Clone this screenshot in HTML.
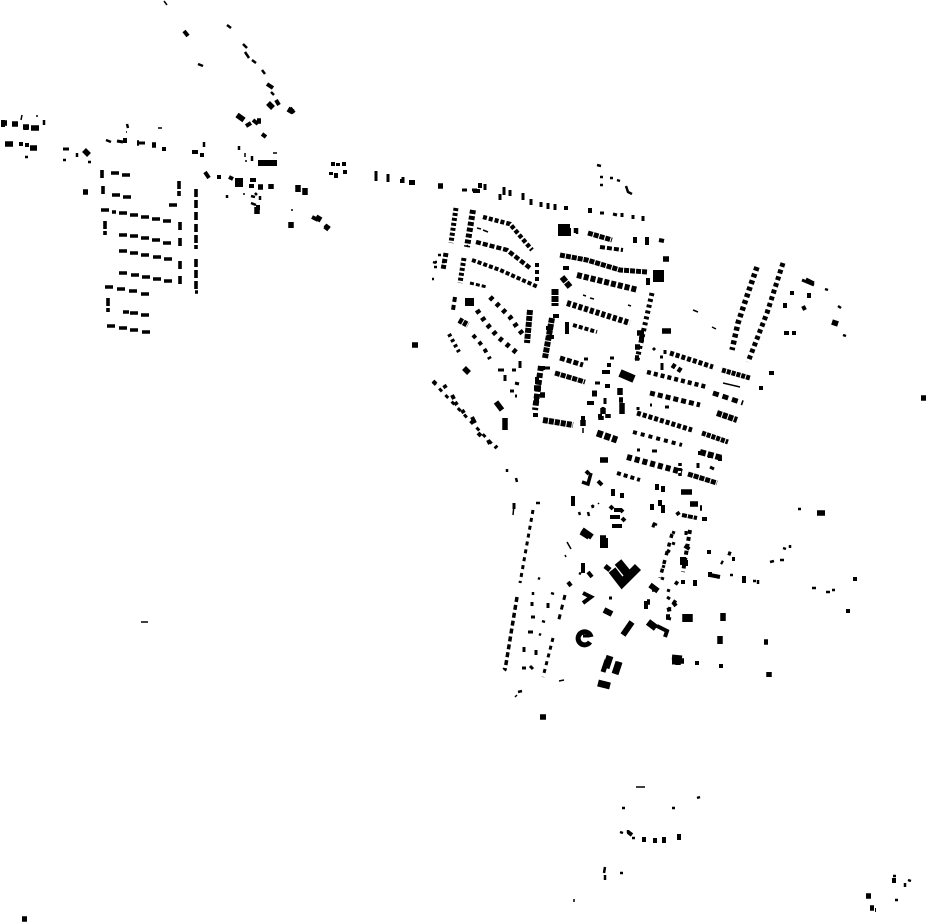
<!DOCTYPE html>
<html><head><meta charset="utf-8"><style>
html,body{margin:0;padding:0;background:#fff;width:930px;height:924px;overflow:hidden}
svg{display:block}
path{fill:none;stroke:#000}
</style></head><body>
<svg width="930" height="924" viewBox="0 0 930 924" xmlns="http://www.w3.org/2000/svg">
<!-- tiny buildings -->
<path stroke-width="1.5" d="M164 1l3 4M126 132h1M245 153v4M244 193v2M255 193l1 2M158 128h4M273 153h4M22 115l-1 5M141 622h7M291 210h2M36 116h2M245 161h2M467 245l1 2M477 228l4 1M483 230l5 2M583 295l3 1M590 298l4 1M628 305l3 1M583 428v5M693 310l5 2M712 327l4 2M723 383l17 4M503 668l3 3M565 555l1 2M592 505l2 1M598 503l1 1M559 681l5-1M515 697l2-2M574 899v3M514 505l-1 10M567 542l4 7M636 787h9"/>
<path stroke-width="2.5" d="M198 64l5 2M227 25l4 3M243 44l4 4M245 52l4 6M252 60l4 3M262 70l3 4M271 92l3 3M63 160h3M25 157h3M44 120v5M88 162h3M127 124l1 4M106 140l5 2M204 142v5M239 146v4M252 156v5M260 196v4M258 205v4M77 153v4M227 195v3M251 196l4 1M255 193l2 2M251 203l5 2M445 262h-3M433 262l3 1M434 267h3M432 279h2M438 255h3M577 228v6M575 228v5M435 262h2M600 177h3M610 178h3M617 180l3 1M600 185h3M597 165l4 1M626 186l2 6l4 2M798 509h3M838 306l3 2M843 335l3 1M825 289l3 1M812 588h4M826 592h4M832 590h3M783 548l3 1M790 545v3M770 562l4-1M780 560h4M730 575h3M753 581h3M758 580v4M579 573l2 1M592 505l1 3M507 472v-3M516 478l1 4M518 692l4-1M622 808h3M697 798l3-1M672 808h3M620 832l3 1M628 830v3M632 838h3M605 867l-1 6M605 875v5M620 873h3M893 876h3M908 880l3 1M905 883v4M895 900h3M536 503h4M653 523l4 2M592 506l2 1M579 512l1 3M588 512l1 4M542 621l3 1M539 634l2 1M551 593l3 1M538 578l2 1M533 592v3"/>
<!-- west grid -->
<path stroke-width="3.6" d="M111 173h8M122 175h8M112 195h8M123 197h8M101 210h8M112 212h4M119 213h8M130 215h8M141 217h8M152 219h8M163 221h8M169 205h8M119 235h8M130 236h8M141 238h8M152 240h8M163 243h8M119 251h8M130 253h8M141 255h8M153 257h8M164 259h8M119 273h8M131 275h8M142 277h8M153 279h8M164 281h8M105 287h8M117 289h8M129 291h8M141 294h8M123 312h6M130 313h8M141 315h8M107 326h8M119 328h8M130 330h8M142 332h8M102 170v8M103 186v8M179 181v8M179 191v5M180 222v8M180 238v8M180 261v8M180 276v8M105 221v8M105 231v4M108 298v8M108 308v4M196 189v8M196 200v8M196 212v8M196 224v8M196 235v8M196 245v4M196 259v8M196 270v8M196 281v8M195 292h3"/>
<!-- 3-wide misc -->
<path stroke-width="3" d="M63 149h6M139 143h6M117 141l6 1M462 190h5M472 190h5M376 171v10M388 174v8M403 177v6M485 184v6M504 187v8M510 190v6M523 193v7M531 199v6M500 194v6M510 190v6M548 203v6M555 204v6M600 213h4M613 214l4 1M622 213v4M633 215v4M643 216v5M541 202v5M584 359h4M505 381v-6M515 383l4 1M510 391h4M515 396h2M498 370h6M512 370h4M520 361v7M544 368h6M595 383h5M592 392h5M592 395h5M610 358h4M605 398v6M603 407v6M653 348l2 2M665 350v4M660 357h3M662 363v7M650 405h2M665 407h4M638 407v3M652 451h5M637 450h3M698 463v5M710 467l4 2M609 598h3M672 532l3 1M672 543l3 1M667 550l3 2M662 566l3 1M686 531v4M661 578l3 1M667 590l3 1M667 597l3 2M668 608l3 1M667 618l4 1"/>
<!-- dashed rows -->
<g>
<path stroke-width="5" stroke-dasharray="3 2" d="M456 208L451 243"/>
<path stroke-width="6" stroke-dasharray="4 2" d="M473 210L467 247"/>
<path stroke-width="4.5" stroke-dasharray="4 2" d="M483 217L510 224L532 250"/>
<path stroke-width="4.5" stroke-dasharray="5 2" d="M476 242L507 250L530 268"/>
<path stroke-width="4" stroke-dasharray="4 2" d="M472 260L500 270L538 287"/>
<path stroke-width="5" stroke-dasharray="3 2" d="M464 258L460 283"/>
<path stroke-width="3" stroke-dasharray="4 2" d="M470 283L487 287"/>
<path stroke-width="5" stroke-dasharray="4 2" d="M446 253L443 270"/>
<path stroke-width="4" stroke-dasharray="4 3" d="M537 263L537 283"/>
<path stroke-width="4" stroke-dasharray="5 3" d="M455 297L453 310"/>
<path stroke-width="5" stroke-dasharray="4 5" d="M490 297L498 305L510 317L517 327L525 337"/>
<path stroke-width="6" stroke-dasharray="5 1" d="M530 310L527 343"/>
<path stroke-width="5" stroke-dasharray="4 5" d="M477 310L486 323L498 337L517 353"/>
<path stroke-width="6" stroke-dasharray="4 1" d="M459 320L468 325"/>
<path stroke-width="4" stroke-dasharray="4 5" d="M473 335L480 343L485 350L490 359"/>
<path stroke-width="4" stroke-dasharray="3 3" d="M449 334L459 352"/>
<path stroke-width="3" stroke-dasharray="4 5" d="M433 382L495 447"/>
<path stroke-width="5" stroke-dasharray="5 1" d="M588 233L612 240"/>
<path stroke-width="4" stroke-dasharray="5 2" d="M600 247L623 250"/>
<path stroke-width="5" stroke-dasharray="5 1" d="M560 255L587 260L620 270L647 272"/>
<path stroke-width="6" stroke-dasharray="5 2" d="M577 275L638 290"/>
<path stroke-width="6" stroke-dasharray="6 1" d="M562 277L570 287"/>
<path stroke-width="7" stroke-dasharray="6 1" d="M555 289L555 306"/>
<path stroke-width="6" stroke-dasharray="4 2" d="M567 303L630 323"/>
<path stroke-width="5" stroke-dasharray="3 3" d="M652 293L637 360"/>
<path stroke-width="4" stroke-dasharray="4 2" d="M573 325L597 332"/>
<path stroke-width="5" stroke-dasharray="5 2" d="M560 358L583 365"/>
<path stroke-width="5" stroke-dasharray="5 1" d="M555 373L585 382"/>
<path stroke-width="6" stroke-dasharray="5 1" d="M543 420L573 425"/>
<path stroke-width="7" stroke-dasharray="6 2" d="M597 433L617 440"/>
<path stroke-width="6" stroke-dasharray="5 1" d="M552 318L545 358"/>
<path stroke-width="6" stroke-dasharray="5 2" d="M541 366L535 410"/>
<path stroke-width="5" stroke-dasharray="4 3" d="M783 263L767 313L748 362"/>
<path stroke-width="5.500" stroke-dasharray="4 3" d="M757 267L748 293L738 323L732 350"/>
<path stroke-width="5" stroke-dasharray="4 2" d="M670 353L713 367"/>
<path stroke-width="5" stroke-dasharray="4 1" d="M722 370L750 378"/>
<path stroke-width="5" stroke-dasharray="4 3" d="M672 365L683 372"/>
<path stroke-width="4.5" stroke-dasharray="4 3" d="M647 372L707 387"/>
<path stroke-width="5" stroke-dasharray="5 3" d="M650 393L700 405"/>
<path stroke-width="5" stroke-dasharray="6 4" d="M713 393L743 403"/>
<path stroke-width="5" stroke-dasharray="4 2" d="M637 413L692 430"/>
<path stroke-width="6" stroke-dasharray="5 1" d="M717 413L737 420"/>
<path stroke-width="5" stroke-dasharray="4 1" d="M702 433L728 442"/>
<path stroke-width="6" stroke-dasharray="6 2" d="M700 452L722 458"/>
<path stroke-width="6" stroke-dasharray="5 3" d="M627 457L682 472"/>
<path stroke-width="5" stroke-dasharray="5 1" d="M688 474L717 483"/>
<path stroke-width="4" stroke-dasharray="4 3" d="M617 473L640 480"/>
<path stroke-width="4" stroke-dasharray="5 1" d="M682 515L697 518"/>
<path stroke-width="4" stroke-dasharray="4 4" d="M633 432L682 445"/>
<path stroke-width="4" stroke-dasharray="4 3" d="M690 530L683 572"/>
<path stroke-width="3.5" stroke-dasharray="4 5" d="M672 534L660 578"/>
<path stroke-width="3" stroke-dasharray="4 4" d="M533 510L520 583"/>
<path stroke-width="3" stroke-dasharray="4 4" d="M553 638L543 677"/>
<path stroke-width="3" stroke-dasharray="5 5" d="M565 595L558 623"/>
<path stroke-width="3.5" stroke-dasharray="5 3" d="M517 597L505 670"/>
</g>
<!-- 4-wide -->
<path stroke-width="4" d="M184 31l4 5M267 84l6 4M276 100l3 5M290 108l4 5M3 120v7M246 126l5-3M253 120l5 4M262 134l4 3M192 152h6M202 153v4M26 125v5M21 142v4M27 143v4M125 138v5M164 147v4M205 172l4 6M217 177h4M229 177l4 2M249 186h5M258 205v5M250 180h6M411 180v5M413 180v5M402 179v4M590 208v5M566 206v4M312 217l6 3M325 225l4 4M333 162v4M338 163v3M331 172v3M344 162v4M345 170v4M336 173v5M569 228v8M635 237v6M647 237v8M659 240l5 1M648 278v7M563 268h6M553 316h6M546 328h7M547 337h7M567 322v12M540 368h5M537 377v7M533 415h5M605 386h5M587 403h7M583 416v8M598 416h4M607 365h4M602 372h8M480 183v5M473 191h7M444 385l2 3M433 381l3 3M452 395l2 4M455 402l2 3M462 410l2 3M472 417l3 6M478 433l3 3M488 440l2 4M495 446l2 2M707 552h4M728 553l3 1M732 559h3M721 562l2 1M744 576v7M710 572v5M710 575l10 2M695 580v6M657 626l10 5l-2 6M646 601v8M673 601l3 2M681 582h4M678 584l-3-2M613 489v7M622 493v5M657 484v6M663 486v6M652 504v6M660 500v6M663 505v8M652 525l3 1M677 512l2 3M702 519h5M573 496v10M586 471l3 3M598 481l4 4M610 506l3 3M610 517h10M612 526h10M622 518l3 3M614 510h7l2 2M769 373h5M761 386v4M792 291v4M809 293v5M785 303v5M803 306l2 4M784 333h5M792 333h4M583 593l8 4l-8 6M855 577v4M846 611h4M698 453h5M710 453v5M720 456v5M719 666h4M697 661v4M894 878v5M876 910h-1M644 837v5M655 838v5M664 837v6M679 834v6M628 832l4 3"/>
<!-- 5-6 wide -->
<path stroke-width="5.5" d="M2 123h5M12 124h6M23 127h6M31 128h8M5 144h8M30 148h7M84 150l5 5M83 192h5M152 145h4M137 143h2M237 115l7 5M268 103l5 5M257 121h4M288 109l5 3M265 163h8M298 185v7M305 188v7M291 222v6M316 217l5 3M325 226l4 3M258 187h5M271 184v5M257 207v7M438 186h5M412 345h6M464 368l5 5M561 224v12M637 333h7M635 347h5M635 358h4M662 331h9M663 259h6M540 395h5M534 388h7M534 401h5M620 388v7M622 403v11M608 414v4M619 400h4M601 416v4M603 408v6M583 420v6M496 402l6 8M505 418v12M639 339h5M581 532l8 5M600 538h6M720 636v8M723 613v8M685 614v8M690 614v8M678 657v8M676 661h8M764 642h4M769 672v5M817 513h8M832 322l6 2M921 398h5M540 717h6M22 919h5M870 908h4M866 896h5M652 589h4M650 585l8 6M666 617h4M647 602h3M690 504h8M700 508h2M681 492h11M600 460h8"/>
<!-- larger -->
<path stroke-width="12" d="M653 276h11M564 224v12"/>
<path stroke-width="6" d="M258 163h19"/>
<path stroke-width="8" d="M620 373l14 6M465 302h9M604 538v10M602 543h6M239 178v9"/>
<path stroke-width="7" d="M606 668l4-12M615 674l4-12M598 683l12 3M648 622l8 6M686 618h5M672 661h6"/>
<path stroke-width="8.5" d="M612 570l10 13l16-16M618 562l9 11"/>
<path stroke-width="5" d="M605 566l5 4M603 672l4-12M616 674l4-12M672 657l10 1"/>
<path stroke-width="6" d="M632 622l-9 13M582 530l10 7"/>
<path stroke-width="5" d="M591 637a6.500 6.500 0 1 0 -1 5" />
<path stroke-width="3" d="M583 636h6"/>
<path stroke-width="3.5" d="M582 482l6 2l3-11"/>
<path stroke-width="6" d="M604 610l8 4M683 557v8M685 560v6M688 546l-2 3"/>
<path stroke-width="3.500" stroke-dasharray="3 2" d="M680 476v-14"/>
<path stroke-width="4" d="M583 563v10M588 572l4 5M568 582l3 4M673 602l3 4M667 610l4-1"/>
<path stroke-width="3" d="M802 280l12 5M806 279l8 4M514 503v6M528 632h5M524 647v5M536 650v5M522 668h4M530 666l3 3M531 617h4M548 603v5M532 602v4"/>
</svg>
</body></html>
